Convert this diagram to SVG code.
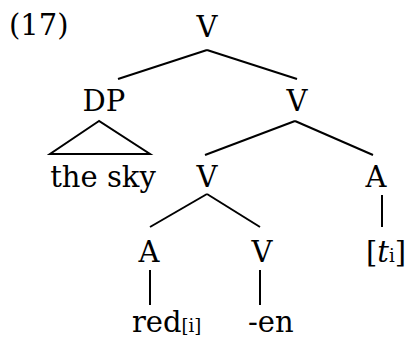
<svg xmlns="http://www.w3.org/2000/svg" width="405" height="339" viewBox="0 0 405 339">
  <style>
    text { font-family: "DejaVu Serif", "Liberation Serif", serif; font-size: 29px; fill: #000; }
    .c { text-anchor: middle; }
    .sub { font-size: 18px; }
    .it { font-style: italic; }
    .edge { stroke: #000; stroke-width: 2; fill: none; }
  </style>
  <rect width="405" height="339" fill="#fff"/>

  <!-- example number -->
  <text id="label" x="9" y="35">(17)</text>

  <!-- branches -->
  <g id="connectors">
    <line class="edge" x1="207" y1="50" x2="118" y2="79"/>
    <line class="edge" x1="207" y1="50" x2="297" y2="79"/>
    <polygon class="edge" points="99,121 50,154 150,154"/>
    <line class="edge" x1="295" y1="121" x2="205" y2="155"/>
    <line class="edge" x1="295" y1="121" x2="373" y2="155"/>
    <line class="edge" x1="207" y1="194" x2="150" y2="227"/>
    <line class="edge" x1="207" y1="194" x2="260" y2="227"/>
    <line class="edge" x1="382" y1="195" x2="382" y2="227"/>
    <line class="edge" x1="150" y1="270" x2="150" y2="305"/>
    <line class="edge" x1="260" y1="270" x2="260" y2="305"/>
  </g>

  <!-- nodes -->
  <g id="v-root"><text class="c" x="207" y="37">V</text></g>
  <g id="dp"><text class="c" x="104" y="111">DP</text></g>
  <g id="v-bar"><text class="c" x="297" y="111">V</text></g>
  <g id="the-sky"><text class="c" x="103" y="187">the sky</text></g>
  <g id="v-complex"><text class="c" x="207" y="187">V</text></g>
  <g id="a-trace"><text class="c" x="376" y="187">A</text></g>
  <g id="a-red"><text class="c" x="149" y="262">A</text></g>
  <g id="v-en"><text class="c" x="262" y="262">V</text></g>
  <g id="trace"><text x="366" y="262">[<tspan class="it">t</tspan><tspan class="sub">i</tspan>]</text></g>
  <g id="red"><text x="132" y="332">red<tspan class="sub">[i]</tspan></text></g>
  <g id="en"><text x="248" y="332">-en</text></g>
</svg>
